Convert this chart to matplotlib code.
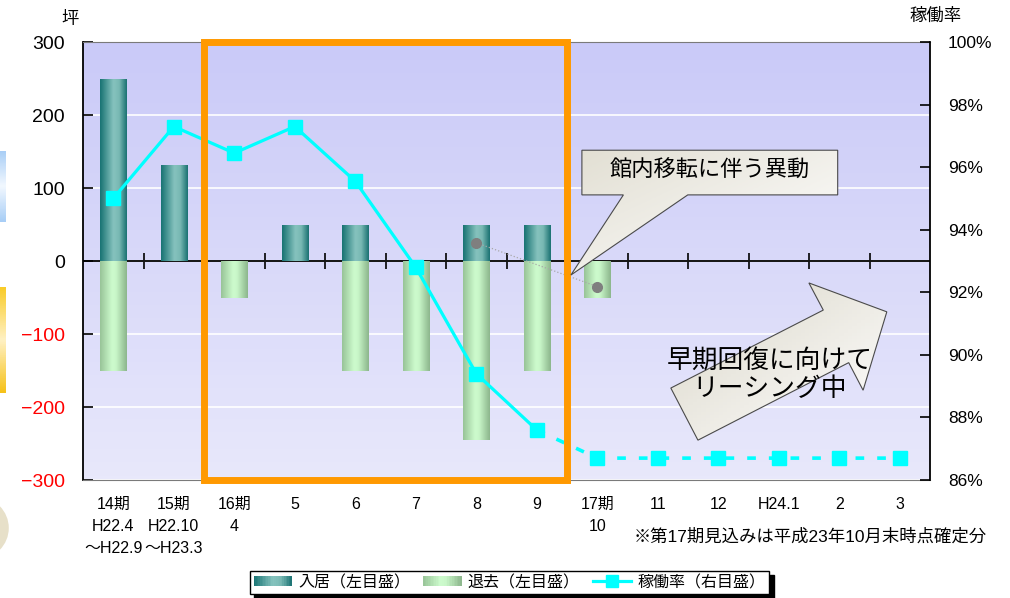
import numpy as np
import matplotlib
matplotlib.use('Agg')
import matplotlib.pyplot as plt
from matplotlib.patches import Rectangle, Polygon, Ellipse
from matplotlib.colors import LinearSegmentedColormap
from matplotlib.legend_handler import HandlerBase
from matplotlib.lines import Line2D

plt.rcParams['font.family'] = ['Liberation Sans', 'Noto Sans CJK JP', 'DejaVu Sans']

# --- data ---
periods = ['14期\nH22.4\n～H22.9', '15期\nH22.10\n～H23.3', '16期\n4', '5', '6', '7',
           '8', '9', '17期\n10', '11', '12', 'H24.1', '2', '3']
move_in = [250, 132, 0, 50, 50, 0, 50, 50, 0]          # 入居 (坪)
move_out = [-150, 0, -50, 0, -150, -150, -245, -150, -50]  # 退去 (坪)
rate_actual = [95.0, 97.3, 96.45, 97.3, 95.55, 92.8, 89.4, 87.6]   # 稼働率 実績
rate_forecast = [87.6, 86.7, 86.7, 86.7, 86.7, 86.7, 86.7]         # 9月 -> 3月 見込み
relocation_idx = [6, 8]      # 館内移転 (8月, 17期10月)
relocation_val = [25, -35]

left_ticks = [300, 200, 100, 0, -100, -200, -300]
right_ticks = [86, 88, 90, 92, 94, 96, 98, 100]

teal = LinearSegmentedColormap.from_list(
    'teal', [(0, '#187373'), (0.5, '#86C3BE'), (0.72, '#78B8B3'), (1, '#1A7272')])
green = LinearSegmentedColormap.from_list(
    'green', [(0, '#98C498'), (0.45, '#CDFBCD'), (0.6, '#C8F6C8'), (1, '#8CB68C')])
hgrad = np.linspace(0, 1, 64).reshape(1, -1)


def gradient_bar(ax, patch, cmap):
    x0, y0 = patch.get_x(), patch.get_y()
    w, h = patch.get_width(), patch.get_height()
    if h == 0:
        patch.set_visible(False)
        return
    im = ax.imshow(hgrad, cmap=cmap, extent=(x0, x0 + w, min(y0, y0 + h), max(y0, y0 + h)),
                   aspect='auto', origin='lower', zorder=2, interpolation='bicubic')
    im.set_clip_path(patch)
    patch.set_facecolor('none')
    patch.set_edgecolor('none')


def gradient_shape(ax, pts, c0, c1, zorder):
    cmap = LinearSegmentedColormap.from_list('g', [c0, c1])
    poly = Polygon(pts, closed=True, transform=ax.transAxes, facecolor='none',
                   edgecolor='#4A4A4A', lw=0.8, zorder=zorder + 0.1)
    ax.add_patch(poly)
    xs = [p[0] for p in pts]
    ys = [p[1] for p in pts]
    g = np.add.outer(np.linspace(1, 0, 50), np.linspace(0, 1, 50)) / 2
    im = ax.imshow(g, cmap=cmap, extent=(min(xs), max(xs), min(ys), max(ys)),
                   transform=ax.transAxes, aspect='auto', origin='lower', zorder=zorder)
    im.set_clip_path(poly)


fig = plt.figure(figsize=(10.1, 5.98), dpi=100)
pos = [0.0822, 0.1973, 0.8386, 0.7324]

# plot area background
bg = fig.add_axes(pos, zorder=-1)
bg.imshow(np.linspace(1, 0, 100).reshape(-1, 1),
          cmap=LinearSegmentedColormap.from_list('bg', ['#CACAF8', '#E8E8FB']),
          aspect='auto', extent=(0, 1, 0, 1), origin='lower')
bg.axis('off')

ax = fig.add_axes(pos)
ax.patch.set_alpha(0)
x = np.arange(len(periods))
xb = np.arange(len(move_in))

bars_in = ax.bar(xb, move_in, width=0.43, zorder=2)
bars_out = ax.bar(xb, move_out, width=0.43, zorder=2)
for p in bars_in:
    gradient_bar(ax, p, teal)
for p in bars_out:
    gradient_bar(ax, p, green)

ax.axhline(0, color='black', lw=1.3, zorder=1.5)
ax.plot(relocation_idx, relocation_val, color='#A8A8A8', ls=':', lw=0.9,
        marker='o', ms=7, mfc='#7F7F7F', mec='#7F7F7F', zorder=3)

ax.set_xlim(-0.5, len(periods) - 0.5)
ax.set_ylim(-300, 300)
ax.set_yticks(left_ticks)
ax.set_yticklabels([str(v).replace('-', '\u2212') for v in left_ticks], fontsize=14)
for lab, v in zip(ax.get_yticklabels(), left_ticks):
    lab.set_color('#FF0000' if v < 0 else 'black')
ax.tick_params(axis='y', direction='in', length=7, width=1.2, pad=13)
ax.set_xticks(x)
ax.set_xticklabels(periods, fontsize=11.5, linespacing=1.6)
ax.tick_params(axis='x', length=0, pad=12)
ax.yaxis.grid(True, color='white', lw=1.2, zorder=0.5)
ax.set_axisbelow(True)
for s in ['top', 'bottom']:
    ax.spines[s].set_color('#7A7A7A')
ax.spines['left'].set_linewidth(1.3)
ax.spines['right'].set_visible(False)

# category dividers on the zero line
sec = ax.secondary_xaxis(0.5)
sec.set_xticks(np.arange(0.5, len(periods) - 1, 1))
sec.tick_params(direction='inout', length=11, width=1.2, labelbottom=False, labeltop=False)
for s in sec.spines.values():
    s.set_visible(False)

# occupancy rate on the right axis
ax2 = ax.twinx()
ax2.plot(x[:len(rate_actual)], rate_actual, color='#00FFFF', lw=2.3, marker='s',
         ms=9.5, zorder=4)
ax2.plot(x[len(rate_actual) - 1:], rate_forecast, color='#00FFFF', lw=2.6,
         ls=(0, (2.4, 3.6)), zorder=4)
ax2.plot(x[len(rate_actual):], rate_forecast[1:], color='#00FFFF', ls='none',
         marker='s', ms=9.5, zorder=4)
ax2.set_yticks(right_ticks)
ax2.set_yticklabels([f'{v}%' for v in right_ticks], fontsize=12.5)
ax2.tick_params(axis='y', direction='in', length=7, width=1.2, pad=13)
ax2.spines['right'].set_linewidth(1.3)
for s in ['top', 'bottom', 'left']:
    ax2.spines[s].set_visible(False)

# highlighted 16期 span
ax2.add_patch(Rectangle((1.5, -300), 6, 600, transform=ax.transData, fill=False,
                        edgecolor='#FF9900', lw=5, zorder=5, clip_on=False))

# callout
gradient_shape(ax2, [(0.589, 0.753), (0.891, 0.753), (0.891, 0.651), (0.714, 0.651),
                     (0.576, 0.468), (0.638, 0.651), (0.589, 0.651)],
               '#E2DFD3', '#FFFFFF', 6)
ax2.text(0.74, 0.705, '館内移転に伴う異動', transform=ax2.transAxes, fontsize=16,
         ha='center', va='center', zorder=7)

# block arrow
gradient_shape(ax2, [(0.726, 0.091), (0.694, 0.210), (0.874, 0.388), (0.857, 0.450),
                     (0.949, 0.384), (0.921, 0.205), (0.904, 0.268)],
               '#DAD6C8', '#FFFFFF', 6)
ax2.text(0.811, 0.240, '早期回復に向けて\nリーシング中', transform=ax2.transAxes,
         fontsize=18.5, ha='center', va='center', linespacing=1.25, zorder=7)

ax2.set_xlim(-0.5, len(periods) - 0.5)
ax2.set_ylim(86, 100)

fig.text(0.069, 0.968, '坪', fontsize=12.5, ha='center', va='center')
fig.text(0.926, 0.973, '稼働率', fontsize=12.5, ha='center', va='center')
fig.text(0.977, 0.102, '※第17期見込みは平成23年10月末時点確定分', fontsize=12.5,
         ha='right', va='center')


class GradHandler(HandlerBase):
    def __init__(self, cmap):
        super().__init__()
        self.cmap = cmap

    def create_artists(self, legend, orig_handle, xdescent, ydescent, width, height,
                       fontsize, trans):
        n = 24
        arts = []
        for i in range(n):
            r = Rectangle((-xdescent + width * i / n, -ydescent + height * 0.05),
                          width / n * 1.05, height * 0.9, facecolor=self.cmap((i + 0.5) / n),
                          edgecolor='none', transform=trans)
            arts.append(r)
        return arts


h_in = Rectangle((0, 0), 1, 1)
h_out = Rectangle((0, 0), 1, 1)
h_rate = Line2D([], [], color='#00FFFF', lw=2.3, marker='s', ms=8)
leg = fig.legend([h_in, h_out, h_rate], ['入居（左目盛）', '退去（左目盛）', '稼働率（右目盛）'],
                 handler_map={h_in: GradHandler(teal), h_out: GradHandler(green)},
                 loc='center', bbox_to_anchor=(0.5045, 0.026), ncol=3, fontsize=11.5,
                 frameon=True, fancybox=False, edgecolor='black', handlelength=2.4,
                 handletextpad=0.4, columnspacing=0.8, borderpad=0.25,
                 shadow={'color': 'black', 'alpha': 1, 'ox': 3, 'oy': -3})
leg.get_frame().set_linewidth(1.0)

# slide edge decorations
deco1 = fig.add_axes([0, 1 - 222 / 598, 6 / 1010, 71 / 598])
deco1.imshow(np.linspace(0, 1, 50).reshape(-1, 1), aspect='auto',
             cmap=LinearSegmentedColormap.from_list('b', ['#A8CEF6', '#F2F8FF', '#A8CEF6']))
deco1.axis('off')
deco2 = fig.add_axes([0, 1 - 393 / 598, 6 / 1010, 106 / 598])
deco2.imshow(np.linspace(0, 1, 50).reshape(-1, 1), aspect='auto',
             cmap=LinearSegmentedColormap.from_list('y', ['#F9CC2A', '#FFF1C4', '#F6C21A']))
deco2.axis('off')
fig.patches.append(Ellipse((-0.022, 1 - 528 / 598), 0.0614, 0.1037,
                           transform=fig.transFigure, facecolor='#E7E0C9', edgecolor='none'))

fig.savefig('out.png', dpi=100)
